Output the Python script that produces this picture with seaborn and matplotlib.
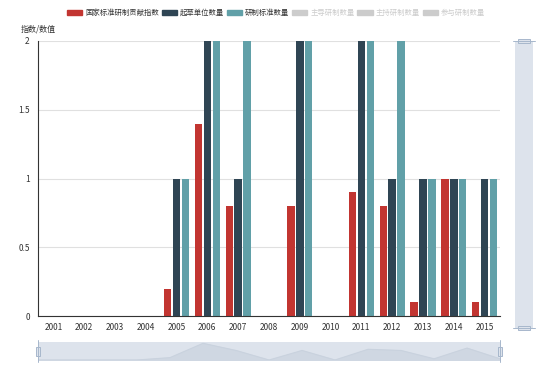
import matplotlib
matplotlib.use('Agg')
import matplotlib.pyplot as plt
import matplotlib.patches as mpatches
import seaborn as sns
import pandas as pd
import numpy as np

years = ['2001', '2002', '2003', '2004', '2005', '2006', '2007', '2008',
         '2009', '2010', '2011', '2012', '2013', '2014', '2015']
index_vals = [0, 0, 0, 0, 0.2, 1.4, 0.8, 0, 0.8, 0, 0.9, 0.8, 0.1, 1, 0.1]
draft_units = [0, 0, 0, 0, 1, 2, 1, 0, 2, 0, 2, 1, 1, 1, 1]
std_counts = [0, 0, 0, 0, 1, 2, 2, 0, 2, 0, 2, 2, 1, 1, 1]

series_names = ['国家标准研制贡献指数', '起草单位数量', '研制标准数量']
hidden_names = ['主导研制数量', '主持研制数量', '参与研制数量']
colors = ['#c23531', '#2f4554', '#61a0a8']
y_ticks = [0, 0.5, 1, 1.5, 2]
y_tick_labels = ['0', '0.5', '1', '1.5', '2']

df = pd.DataFrame({
    'year': years * 3,
    'value': index_vals + draft_units + std_counts,
    'series': [series_names[0]] * 15 + [series_names[1]] * 15 + [series_names[2]] * 15,
})

sns.set_style('white')
plt.rcParams['font.family'] = ['Noto Sans CJK SC', 'DejaVu Sans']

W, H = 558, 365
fig = plt.figure(figsize=(W / 100, H / 100), dpi=100)

def box(x0, y0, x1, y1):
    return [x0 / W, 1 - y1 / H, (x1 - x0) / W, (y1 - y0) / H]

ax = fig.add_axes(box(38, 41, 500, 316))
sns.barplot(data=df, x='year', y='value', hue='series', palette=colors,
            saturation=1, width=0.86, gap=0.16, linewidth=0, ax=ax,
            legend=False, order=years)

ax.set_ylim(0, 2)
ax.set_xlim(-0.5, 14.5)
ax.set_yticks(y_ticks)
ax.set_yticklabels(y_tick_labels)
ax.yaxis.grid(True, color='#e0e0e0', linewidth=0.8)
ax.set_axisbelow(True)
ax.set_xlabel('')
ax.set_ylabel('')

# category axis: ticks on boundaries, labels centered
ax.set_xticks(np.arange(-0.5, 15, 1))
ax.set_xticklabels([])
ax.set_xticks(np.arange(15), minor=True)
ax.set_xticklabels(years, minor=True)
ax.tick_params(axis='x', which='major', length=4, width=0.8, color='#333333', direction='out')
ax.tick_params(axis='x', which='minor', length=0, labelsize=6, labelcolor='#333333', pad=5)
ax.tick_params(axis='y', length=4, width=0.8, color='#333333', direction='out',
               labelsize=6, labelcolor='#333333', pad=2)
for side in ['top', 'right']:
    ax.spines[side].set_visible(False)
for side in ['left', 'bottom']:
    ax.spines[side].set_color('#333333')
    ax.spines[side].set_linewidth(0.8)

fig.text(38 / W, 1 - 29 / H, '指数/数值', ha='center', va='center',
         fontsize=5.8, color='#333333')

# legend
handles = [mpatches.Patch(color=c) for c in colors]
handles += [mpatches.Patch(color='#cccccc') for _ in hidden_names]
leg = fig.legend(handles, series_names + hidden_names, loc='center',
                 bbox_to_anchor=(276 / W, 1 - 13 / H), ncol=6, frameon=False,
                 fontsize=5.3, handlelength=2.05, handleheight=0.85,
                 handletextpad=0.4, columnspacing=0.4, borderpad=0)
for t, c in zip(leg.get_texts(), ['#333333'] * 3 + ['#cccccc'] * 3):
    t.set_color(c)

# vertical data zoom slider (right)
ax_v = fig.add_axes(box(515, 41, 533, 328))
ax_v.set_facecolor('#dde3ec')
ax_v.set_xticks([])
ax_v.set_yticks([])
for s in ax_v.spines.values():
    s.set_visible(False)
for yy in [41, 328]:
    fig.patches.append(mpatches.Rectangle(((518) / W, 1 - (yy + 2) / H), 12 / W, 4 / H,
                                          transform=fig.transFigure, facecolor='#dde3ec',
                                          edgecolor='#a7b7cc', linewidth=0.7))
    fig.lines.append(plt.Line2D([513 / W, 535 / W], [1 - yy / H, 1 - yy / H],
                                transform=fig.transFigure, color='#a7b7cc', linewidth=0.7))

# horizontal data zoom slider (bottom) with data shadow
ax_h = fig.add_axes(box(38, 342, 500, 360))
ax_h.set_facecolor('#dde3ec')
shadow = pd.DataFrame({'pos': np.arange(len(years)), 'value': index_vals})
sns.lineplot(data=shadow, x='pos', y='value', ax=ax_h, color='#c9d2de', linewidth=0.8)
ax_h.fill_between(shadow['pos'], shadow['value'], color='#cfd7e2')
ax_h.set_xlim(0, 14)
ax_h.set_ylim(0, max(index_vals) * 1.08)
ax_h.set_xticks([])
ax_h.set_yticks([])
ax_h.set_xlabel('')
ax_h.set_ylabel('')
for s in ax_h.spines.values():
    s.set_visible(False)
for xx in [38, 500]:
    fig.lines.append(plt.Line2D([xx / W, xx / W], [1 - 340 / H, 1 - 362 / H],
                                transform=fig.transFigure, color='#a7b7cc', linewidth=0.7))
    fig.patches.append(mpatches.Rectangle(((xx - 2) / W, 1 - 356 / H), 4 / W, 9 / H,
                                          transform=fig.transFigure, facecolor='#dde3ec',
                                          edgecolor='#a7b7cc', linewidth=0.7))

fig.savefig('out.png', dpi=100)
plt.close(fig)
